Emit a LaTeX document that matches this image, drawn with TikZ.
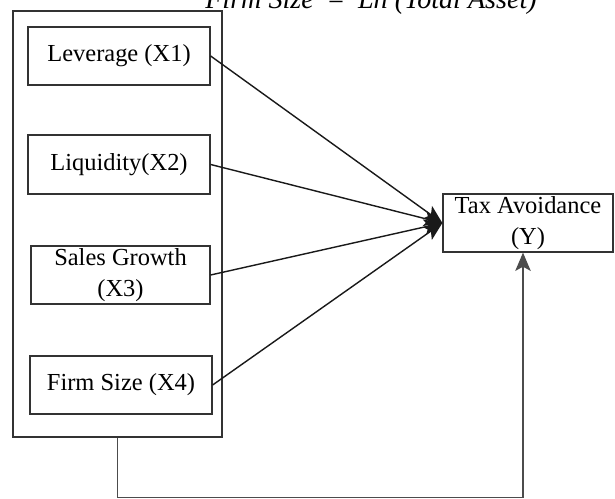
\documentclass[tikz,border=0pt]{standalone}
\usepackage{fontspec}
\setmainfont{Liberation Serif}
\usetikzlibrary{arrows.meta}

\begin{document}
\begin{tikzpicture}[
  box/.style={draw=black!80,line width=0.9pt,inner sep=0pt,align=center,
    minimum height=1.45cm,font=\fontsize{17.4}{22}\selectfont},
  arr/.style={black!90,line width=1pt,-{Stealth[length=13pt,width=11pt,inset=3pt]}},
]
  \useasboundingbox (0,0) rectangle (15.375,12.475);
  \node[anchor=base west,inner sep=0pt,font=\fontsize{20}{24}\selectfont\itshape] (formula) at (5.125,12.27)
    {Firm Size\hspace{0.45em}=\hspace{0.45em}Ln (Total Asset)};

  \node[draw=black!80,line width=0.9pt,minimum width=5.225cm,minimum height=10.65cm] (group) at (2.9375,6.875) {};
  \node[box,minimum width=4.55cm] (lev) at (2.975,11.075) {Leverage (X1)};
  \node[box,minimum width=4.55cm,minimum height=1.475cm] (liq) at (2.975,8.3625) {Liquidity(X2)};
  \node[box,minimum width=4.475cm] (sales) at (3.0125,5.6) {Sales Growth\\(X3)};
  \node[box,minimum width=4.55cm] (firm) at (3.025,2.85) {Firm Size (X4)};
  \node[box,minimum width=4.25cm] (tax) at (13.2,6.9) {Tax Avoidance\\(Y)};

  \draw[arr] (lev.east) -- (tax.west);
  \draw[arr] (liq.east) -- (tax.west);
  \draw[arr] (sales.east) -- (tax.west);
  \draw[arr] (firm.east) -- (tax.west);
  \draw[arr,black!70] (group.south) -- ++(0,-1.5) -| ([xshift=-0.125cm]tax.south);
\end{tikzpicture}
\end{document}
